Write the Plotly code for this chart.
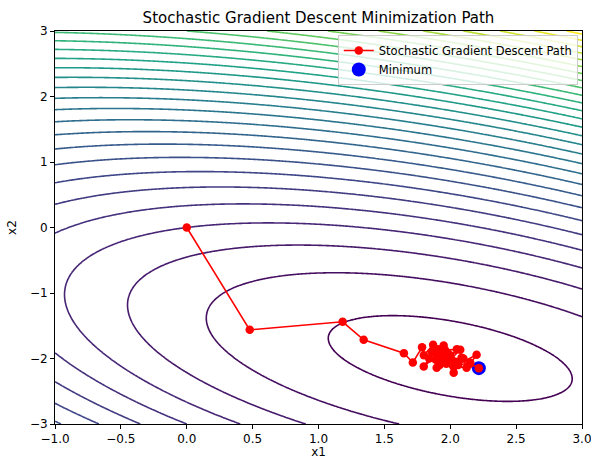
import numpy as np
import plotly.graph_objects as go

# Quadratic objective f(x) = 0.5 x^T A x - b^T x
A = [[3.0, 2.0], [2.0, 6.0]]
b = [2.0, -8.0]

x_range = [-1.0, 3.0]
y_range = [-3.0, 3.0]

# SGD path
path_x1 = [0.0, 0.478, 1.183, 1.343, 1.648, 1.716, 1.786, 1.80, 1.87, 1.91, 1.84, 1.799,
           1.90, 1.95, 1.98, 1.86, 1.93, 1.897, 1.99, 2.05, 1.96, 2.01, 1.89, 1.94, 2.026,
           2.04, 2.086, 1.97, 2.076, 2.00, 1.92, 2.06, 2.152, 2.10, 2.124, 2.03, 2.20, 2.15, 2.217]
path_x2 = [0.0, -1.562, -1.440, -1.714, -1.918, -2.061, -1.830, -1.95, -1.79, -1.86, -2.00, -2.122,
           -1.95, -1.80, -1.92, -1.90, -2.05, -2.142, -2.00, -1.86, -1.87, -2.02, -2.02, -1.97, -2.218,
           -2.05, -1.989, -2.08, -1.867, -1.95, -2.10, -2.10, -2.066, -2.00, -2.142, -2.12, -1.943, -2.08, -2.147]

min_x1 = [2.217]
min_x2 = [-2.147]

levels_start, levels_end, levels_step = -9, 75, 3

gx = np.linspace(x_range[0], x_range[1], 300)
gy = np.linspace(y_range[0], y_range[1], 300)
X, Y = np.meshgrid(gx, gy)
Z = 0.5 * (A[0][0] * X**2 + (A[0][1] + A[1][0]) * X * Y + A[1][1] * Y**2) - (b[0] * X + b[1] * Y)

fig = go.Figure()
fig.add_trace(go.Contour(
    x=gx, y=gy, z=Z,
    colorscale="Viridis",
    zmin=levels_start, zmax=levels_end,
    contours=dict(coloring="lines", start=levels_start, end=levels_end, size=levels_step),
    line=dict(width=1.6),
    showscale=False, showlegend=False, hoverinfo="skip",
))
fig.add_trace(go.Scatter(
    x=min_x1, y=min_x2, mode="markers", name="Minimum",
    marker=dict(color="blue", size=14, line=dict(width=0)),
    legendrank=2,
))
fig.add_trace(go.Scatter(
    x=path_x1, y=path_x2, mode="lines+markers", name="Stochastic Gradient Descent Path",
    line=dict(color="red", width=1.6),
    marker=dict(color="red", size=8.5),
    legendrank=1,
))

axis_common = dict(
    showline=True, linecolor="black", linewidth=1, mirror=True,
    ticks="outside", ticklen=4, tickcolor="black", showgrid=False, zeroline=False,
    tickfont=dict(size=12, color="black"), automargin=False, ticklabeloverflow="allow",
)
fig.update_xaxes(range=x_range, tickvals=[-1, -0.5, 0, 0.5, 1, 1.5, 2, 2.5, 3], tickformat=".1f",
                 title=dict(text="x1", font=dict(size=12, color="black"), standoff=2), **axis_common)
fig.update_yaxes(range=y_range, tickvals=[-3, -2, -1, 0, 1, 2, 3],
                 title=dict(text="x2", font=dict(size=12, color="black"), standoff=10), **axis_common)

fig.update_layout(
    width=591, height=459,
    margin=dict(l=55, r=9, t=31, b=35),
    paper_bgcolor="white", plot_bgcolor="white",
    font=dict(family="DejaVu Sans", color="black"),
    title=dict(text="Stochastic Gradient Descent Minimization Path", x=0.5, xref="paper", xanchor="center",
               y=1 - 18 / 459, yanchor="middle", font=dict(size=15, color="black")),
    legend=dict(x=0.992, y=0.99, xanchor="right", yanchor="top",
                bgcolor="rgba(255,255,255,0.8)", bordercolor="#cccccc", borderwidth=1,
                font=dict(size=11.5), itemwidth=30, tracegroupgap=0),
)

fig.write_html("out.html")
